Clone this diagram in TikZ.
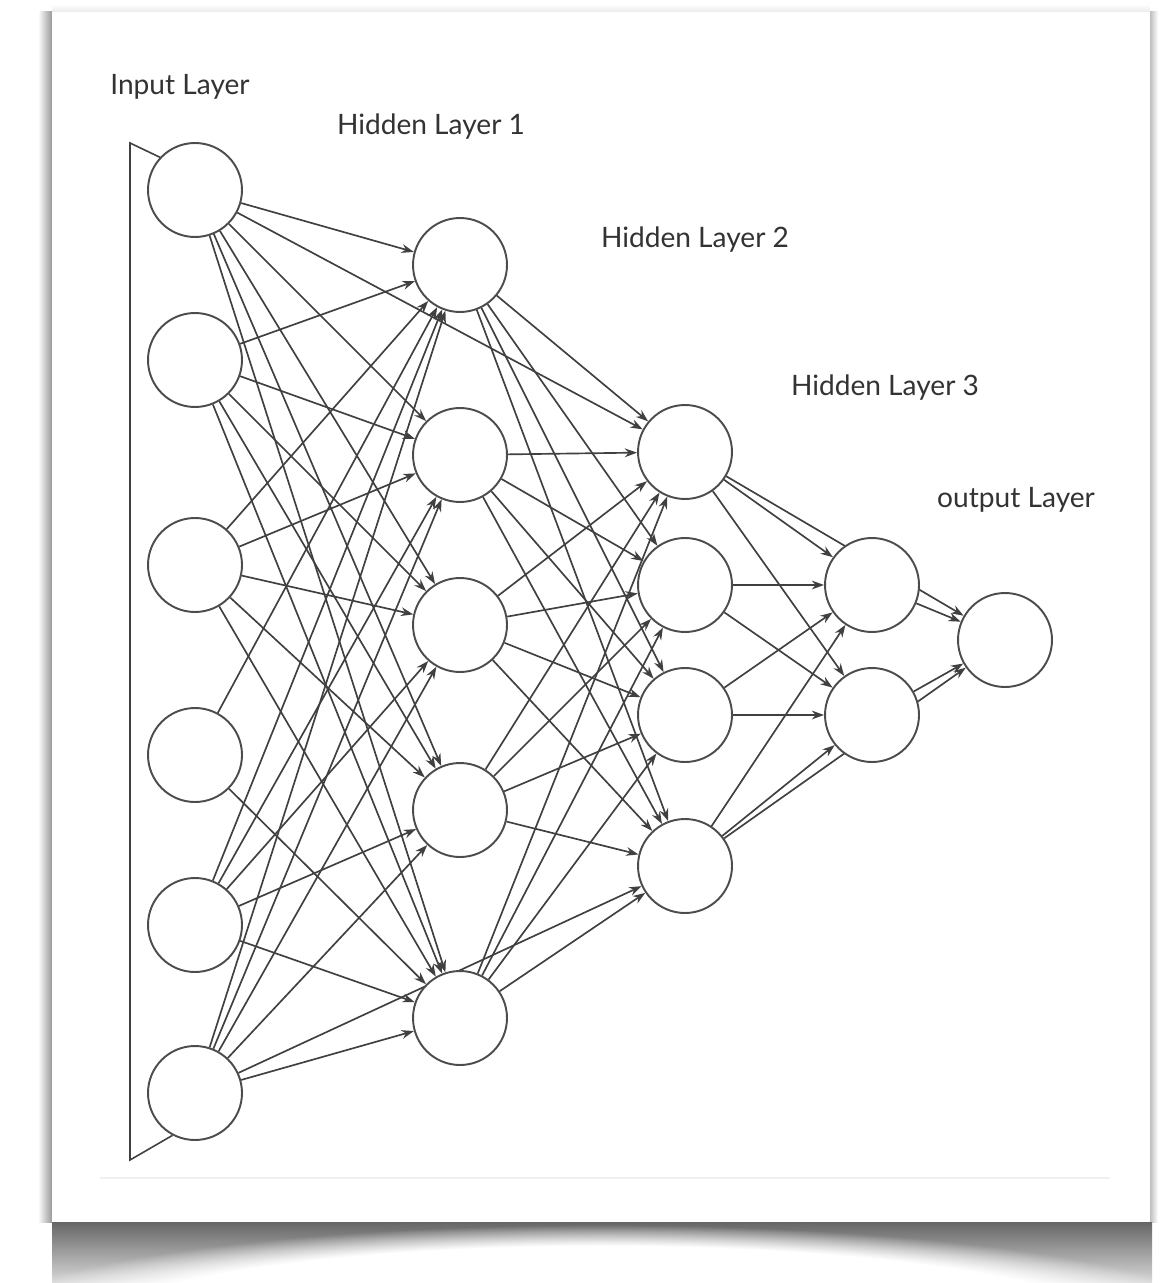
\documentclass[tikz,border=0pt]{standalone}
\usepackage{fontspec}
\setmainfont{Lato}
\usetikzlibrary{arrows.meta,fadings}
\pgfdeclarelayer{paper}
\pgfdeclarelayer{wires}
\pgfsetlayers{paper,wires,main}
\begin{document}
\begin{tikzpicture}[x=0.02cm,y=-0.02cm,
  neuron/.style={circle,draw=black!70,line width=1.1pt,fill=white,minimum size=1.88cm,inner sep=0pt},
  conn/.style={draw=black!75,line width=0.95pt,-{Stealth[length=7pt,width=5pt]}},
  layertitle/.style={font=\fontsize{16}{19}\selectfont,text=black!80,inner sep=0pt}]
\useasboundingbox (0,0) rectangle (1160,1283);

% paper card with its soft shadows
\begin{pgfonlayer}{paper}
\shade[left color=white, right color=black!40] (38,12) rectangle (52,1222);
\shade[left color=black!25, right color=white] (1150,12) rectangle (1158,1222);
\shade[top color=white, bottom color=black!8] (52,4) rectangle (1150,12);
\shade[top color=black!60, bottom color=black!15] (52,1222) rectangle (1152,1283);
\fill[white, path fading=circle with fuzzy edge 20 percent] (602,1330) ellipse [x radius=640, y radius=105];
\fill[white] (52,12) rectangle (1150,1222);
\draw[black!6, line width=1pt] (100,1178) -- (1110,1178);
\end{pgfonlayer}

% layer titles
\node[layertitle] (tI) at (180,87) {Input Layer};
\node[layertitle] (tA) at (431,127) {Hidden Layer 1};
\node[layertitle] (tB) at (695,240) {Hidden Layer 2};
\node[layertitle] (tC) at (885,388) {Hidden Layer 3};
\node[layertitle] (tO) at (1016,500) {output Layer};

% neurons
\foreach \y [count=\i] in {190,360,565,755,925,1093}
  \node[neuron] (I\i) at (195,\y) {};
\foreach \y [count=\i] in {265,455,625,810,1018}
  \node[neuron] (A\i) at (460,\y) {};
\foreach \y [count=\i] in {452,585,715,866}
  \node[neuron] (B\i) at (685,\y) {};
\foreach \y [count=\i] in {585,715}
  \node[neuron] (C\i) at (872,\y) {};
\node[neuron] (O1) at (1005,640) {};

% bracket grouping the inputs
\coordinate (bt) at (130,143);
\coordinate (bb) at (130,1160);
\draw[black!75, line width=0.9pt] (I1.137) -- (bt) -- (bb) -- (I6.242);

% weighted connections, drawn beneath the neurons
\begin{pgfonlayer}{wires}
\foreach \i in {1,2,3,5,6}
  \foreach \j in {1,...,5}
    \draw[conn] (I\i) -- (A\j);
\draw[conn] (I4) -- (A1);
\draw[conn] (I4) -- (A5);
\foreach \i in {1,...,5}
  \foreach \j in {1,...,4}
    \draw[conn] (A\i) -- (B\j);
\foreach \i in {1,...,4}
  \foreach \j in {1,2}
    \draw[conn] (B\i) -- (C\j);
\foreach \i in {1,2}
  \draw[conn] (C\i) -- (O1);
% connections that skip a layer
\draw[conn] (I1) -- (B1);
\draw[conn] (I6) -- (B4);
\draw[conn] (B1) -- (O1);
\draw[conn] (B4) -- (O1);
\end{pgfonlayer}
\end{tikzpicture}
\end{document}
